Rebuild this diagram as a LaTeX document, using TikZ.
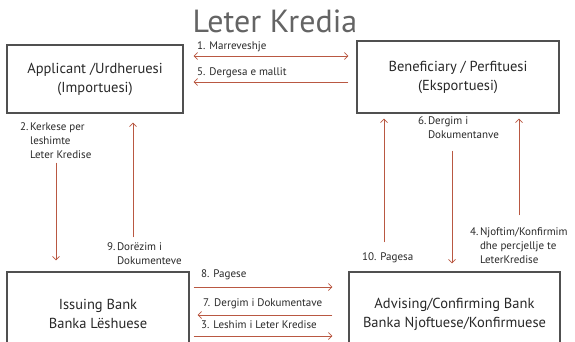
\documentclass[tikz,border=0pt]{standalone}
\usepackage{fontspec}
\setmainfont{PT Sans}
\usetikzlibrary{arrows.meta,positioning,calc}
\definecolor{arrred}{RGB}{185,88,66}
\definecolor{boxgray}{RGB}{80,80,80}
\definecolor{txtgray}{RGB}{40,40,40}
\definecolor{titlegray}{RGB}{100,100,100}

\begin{document}
\begin{tikzpicture}[x=1pt,y=-1pt,
	box/.style={draw=boxgray,line width=1.1pt,align=center,text=txtgray,
		font=\fontsize{14.5}{19}\selectfont,inner sep=0pt},
	arr/.style={draw=arrred,line width=0.7pt,-{Straight Barb[length=3.5pt,width=7pt]}},
	lbl/.style={text=txtgray,font=\fontsize{11}{13.8}\selectfont,inner sep=0pt}]
	\useasboundingbox (0,0) rectangle (575,342);

	\node[text=titlegray,font=\fontsize{32}{36}\selectfont,inner sep=0pt,text depth=0pt] (title) at (275,21) {Leter Kredia};

	% the four parties
	\node[box,minimum width=176pt,minimum height=68pt] (app) at (95,79) {Applicant /Urdheruesi\\(Importuesi)};
	\node[box,minimum width=202pt,minimum height=72pt] (ben) at (458,77) {Beneficiary / Perfituesi\\(Eksportuesi)};
	\node[box,minimum width=182pt,minimum height=84pt] (iss) at (98,314) {Issuing Bank\\Banka Lëshuese};
	\node[box,minimum width=211pt,minimum height=84pt] (adv) at (454.5,314) {Advising/Confirming Bank\\Banka Njoftuese/Konfirmuese};

	% top
	\draw[arr,{Straight Barb[length=3.5pt,width=7pt]}-{Straight Barb[length=3.5pt,width=7pt]},shorten <=10pt,shorten >=8pt] (app.east |- 0,56) -- (ben.west |- 0,56);
	\draw[arr,shorten <=8pt,shorten >=10pt] (ben.west |- 0,82) -- (app.east |- 0,82);
	\node[lbl,anchor=west] (l1) at (197,47) {1. Marreveshje};
	\node[lbl,anchor=west] (l5) at (197,73) {5. Dergesa e mallit};

	% left side
	\draw[arr,shorten <=49pt,shorten >=11pt] (app.south -| 56,0) -- (iss.north -| 56,0);
	\draw[arr,shorten <=34pt,shorten >=9pt] (iss.north -| 133,0) -- (app.south -| 133,0);
	\node[lbl,anchor=north west] (l2) at (20,121) {\begin{tabular}{@{}l@{\hspace{1.5pt}}l@{}}2. & Kerkese per\\ & leshimte\\ & Leter Kredise\end{tabular}};
	\node[lbl,anchor=north west] (l9) at (107,241) {\begin{tabular}{@{}l@{\hspace{1.5pt}}l@{}}9. & Dorëzim i\\ & Dokumenteve\end{tabular}};

	% right side
	\draw[arr,shorten <=29pt,shorten >=5pt] (adv.north -| 384,0) -- (ben.south -| 384,0);
	\draw[arr,shorten <=37pt,shorten >=8pt] (ben.south -| 452,0) -- (adv.north -| 452,0);
	\draw[arr,shorten <=56pt,shorten >=5pt] (adv.north -| 519,0) -- (ben.south -| 519,0);
	\node[lbl,anchor=west] (l10) at (362,258) {10. Pagesa};
	\node[lbl,anchor=north west] (l6) at (418,115) {\begin{tabular}{@{}l@{\hspace{1.5pt}}l@{}}6. & Dergim i\\ & Dokumentanve\end{tabular}};
	\node[lbl,anchor=north west] (l4) at (470,226) {\begin{tabular}{@{}l@{\hspace{1.5pt}}l@{}}4. & Njoftim/Konfirmim\\ & dhe percjellje te\\ & LeterKredise\end{tabular}};

	% bottom
	\draw[arr,shorten <=4pt,shorten >=16pt] (iss.east |- 0,287) -- (adv.west |- 0,287);
	\draw[arr,shorten <=16pt,shorten >=8pt] (adv.west |- 0,315) -- (iss.east |- 0,315);
	\draw[arr,shorten <=4pt,shorten >=16pt] (iss.east |- 0,336) -- (adv.west |- 0,336);
	\node[lbl,anchor=west] (l8) at (201,275) {8. Pagese};
	\node[lbl,anchor=west] (l7) at (203,304) {7. Dergim i Dokumentave};
	\node[lbl,anchor=west] (l3) at (201,325) {3. Leshim i Leter Kredise};
\end{tikzpicture}
\end{document}
